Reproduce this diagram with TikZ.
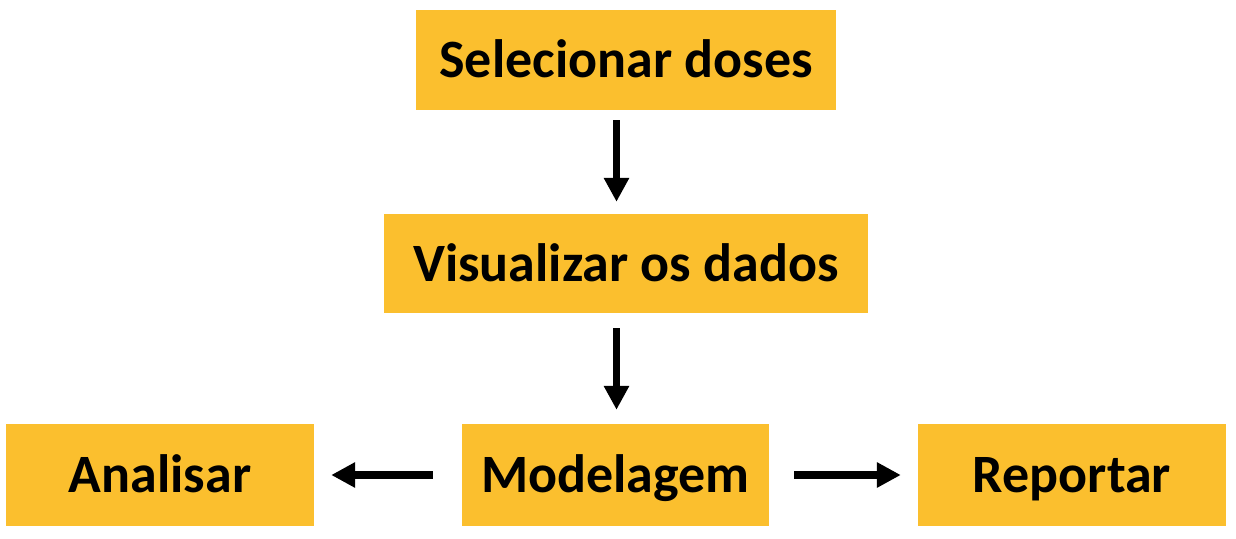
\documentclass[tikz,border=0pt]{standalone}
\usepackage{fontspec}
\setmainfont{Carlito}
\usetikzlibrary{arrows.meta}
\definecolor{boxyellow}{RGB}{251,191,46}
\begin{document}
\begin{tikzpicture}[x=1pt,y=-1pt,
  box/.style={fill=boxyellow,draw=none,inner sep=0pt,anchor=center,
    font=\fontsize{54}{60}\selectfont\bfseries,text height=35pt,text depth=0pt},
  flow/.style={line width=7.5pt,-{Triangle[length=24pt,width=24pt]}}]
\fill[white] (0,0) rectangle (1236,538);
\useasboundingbox (0,0) rectangle (1236,538);
\node[box,minimum width=420pt,minimum height=100pt] (s) at (626,60) {Selecionar doses};
\node[box,minimum width=484pt,minimum height=99pt] (v) at (626,263.5) {Visualizar os dados};
\node[box,minimum width=307pt,minimum height=102pt] (m) at (615.5,475) {Modelagem};
\node[box,minimum width=308pt,minimum height=102pt] (a) at (160,475) {Analisar};
\node[box,minimum width=308pt,minimum height=102pt] (r) at (1072,475) {Reportar};
\draw[flow,shorten <=10pt,shorten >=12pt] ([xshift=-9.5pt]s.south) -- ([xshift=-9.5pt]v.north);
\draw[flow,shorten <=15pt,shorten >=14pt] ([xshift=1pt]v.south -| m.north) -- ([xshift=1pt]m.north);
\draw[flow,shorten <=29pt,shorten >=17pt] (m.west) -- (m.west -| a.east);
\draw[flow,shorten <=25pt,shorten >=17pt] (m.east) -- (m.east -| r.west);
\end{tikzpicture}
\end{document}
